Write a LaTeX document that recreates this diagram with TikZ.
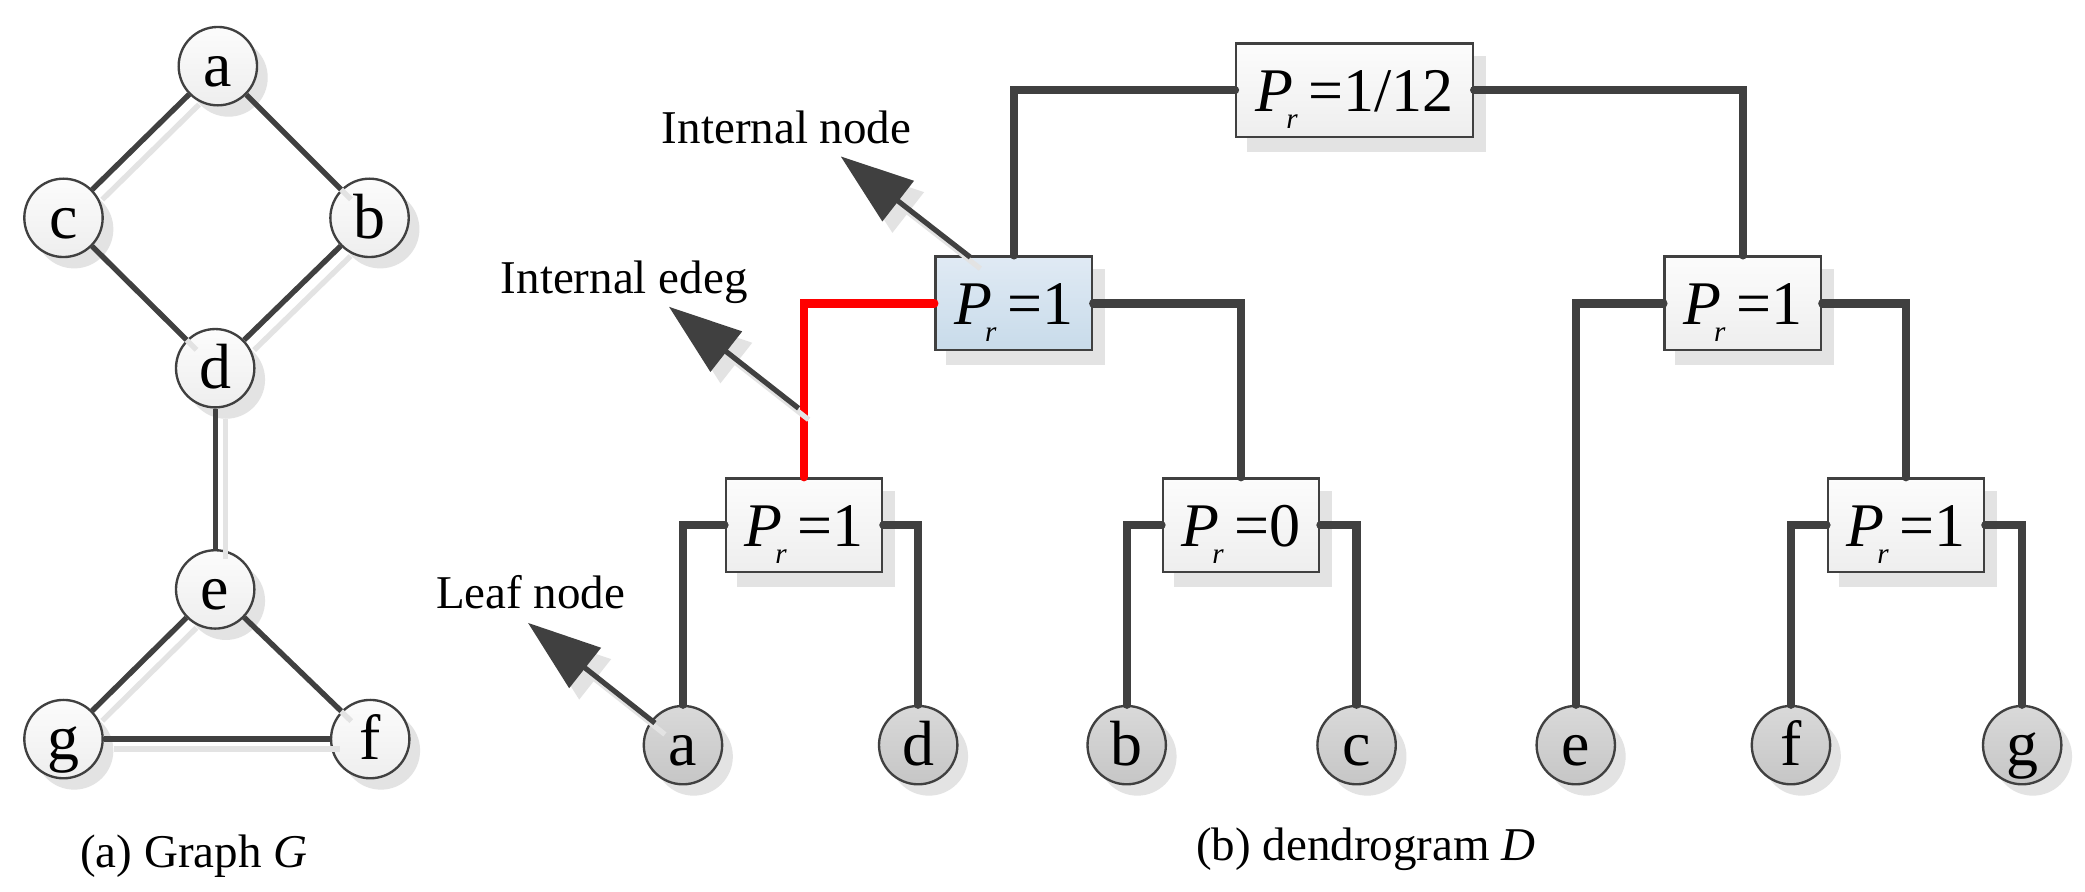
\documentclass[tikz,border=0pt]{standalone}
\usepackage{fontspec}
\setmainfont{Liberation Serif}
\usetikzlibrary{arrows.meta,calc}
\pgfdeclarelayer{bglayer}
\pgfdeclarelayer{shadowlayer}
\pgfdeclarelayer{edgelayer}
\pgfsetlayers{bglayer,shadowlayer,edgelayer,main}
\definecolor{linecol}{HTML}{404040}
\definecolor{shadowcol}{HTML}{E3E3E3}
\definecolor{boxtop}{HTML}{FCFCFC}
\definecolor{boxbot}{HTML}{EEEEEE}
\definecolor{bluetop}{HTML}{E0EAF4}
\definecolor{bluebot}{HTML}{C8DBEA}
\definecolor{leaftop}{HTML}{D9D9D9}
\definecolor{leafbot}{HTML}{C6C6C6}
\newcommand{\PrLab}[1]{{\itshape P}\kern-1.5pt\raisebox{-3.6pt}{\fontsize{6.2}{6.2}\selectfont\itshape r}\kern2.3pt=#1}
\begin{document}
\begin{tikzpicture}[x=0.01cm,y=-0.01cm,
  gnode/.style={circle,draw=linecol,line width=0.5pt,minimum size=0.586cm,inner sep=0pt,
    top color=boxtop,bottom color=boxbot,font=\fontsize{13.6}{14}\selectfont,text height=8.6pt,text depth=0pt},
  leaf/.style={gnode,top color=leaftop,bottom color=leafbot},
  pbox/.style={rectangle,draw=linecol,line width=0.5pt,minimum width=1.17cm,minimum height=0.70cm,inner sep=0pt,
    top color=boxtop,bottom color=boxbot,font=\fontsize{13.2}{14}\selectfont,text height=9pt,text depth=0pt},
  bluebox/.style={pbox,top color=bluetop,bottom color=bluebot},
  gedge/.style={draw=linecol,line width=1.14pt},
  gshadow/.style={draw=shadowcol,line width=1.14pt,transform canvas={shift={(0.075cm,-0.075cm)}}},
  conn/.style={draw=linecol,line width=1.75pt,line cap=round},
  redconn/.style={conn,draw=red},
  note/.style={font=\fontsize{10}{11}\selectfont,anchor=base,inner sep=0pt},
  pointer/.style={draw=linecol,line width=1.1pt,-{Triangle[length=0.545cm,width=0.375cm]}},
  pointershadow/.style={draw=shadowcol,line width=1.1pt,-{Triangle[length=0.545cm,width=0.375cm]},
    transform canvas={shift={(0.075cm,-0.085cm)}}},
]
\useasboundingbox (0,0) rectangle (1560,667);
\begin{pgfonlayer}{bglayer}
\fill[white] (0,0) rectangle (1560,667);
\end{pgfonlayer}

% ---------- (a) Graph G ----------
\node[gnode] (ga) at (163,49.5) {a};
\node[gnode] (gc) at (47.5,163) {c};
\node[gnode] (gb) at (276.5,163) {b};
\node[gnode] (gd) at (161,275.5) {d};
\node[gnode] (ge) at (161,441) {e};
\node[gnode] (gg) at (47.5,553) {g};
\node[gnode] (gf) at (277,553) {f};

% ---------- (b) dendrogram D ----------
\node[pbox,minimum width=1.77cm] (root) at (1013.5,67.5) {\PrLab{1/12}};
\node[bluebox] (L) at (758.5,227) {\PrLab{1}};
\node[pbox] (R) at (1304,227) {\PrLab{1}};
\node[pbox] (PA) at (601.5,393) {\PrLab{1}};
\node[pbox] (PB) at (928.5,393) {\PrLab{0}};
\node[pbox] (PC) at (1426,393) {\PrLab{1}};

\node[leaf] (la) at (511,557.5) {a};
\node[leaf] (ld) at (687,557.5) {d};
\node[leaf] (lb) at (843,557.5) {b};
\node[leaf] (lc) at (1015,557.5) {c};
\node[leaf] (le) at (1179,557.5) {e};
\node[leaf] (lf) at (1340,557.5) {f};
\node[leaf] (lg) at (1513,557.5) {g};

% node and box shadows
\begin{pgfonlayer}{shadowlayer}
\foreach \n in {ga,gb,gc,gd,ge,gf,gg,la,ld,lb,lc,le,lf,lg}
  \fill[shadowcol] ([shift={(0.08cm,-0.085cm)}]\n.center) circle[radius=0.293cm];
\foreach \n in {root,L,R,PA,PB,PC}
  \fill[shadowcol] ([shift={(0.09cm,-0.10cm)}]\n.south west) rectangle ([shift={(0.09cm,-0.10cm)}]\n.north east);
\end{pgfonlayer}

% edge shadows (lie over the nodes, as in the reference)
\draw[gshadow] (ga) -- (gc);
\draw[gshadow] (gb) -- (gd);
\draw[gshadow] (gd) -- (ge);
\draw[gshadow] (ge) -- (gg);
\draw[gshadow] (gg) -- (gf);
\draw[gshadow] (ga) -- (gb);
\draw[gshadow] (gc) -- (gd);
\draw[gshadow] (ge) -- (gf);
% graph edges
\draw[gedge] (ga) -- (gc);
\draw[gedge] (ga) -- (gb);
\draw[gedge] (gc) -- (gd);
\draw[gedge] (gb) -- (gd);
\draw[gedge] (gd) -- (ge);
\draw[gedge] (ge) -- (gg);
\draw[gedge] (ge) -- (gf);
\draw[gedge] (gg) -- (gf);

% dendrogram connectors
\draw[conn] (root.west) -| (L.north);
\draw[conn] (root.east) -| (R.north);
\draw[conn] (L.east) -| (PB.north);
\draw[redconn] (L.west) -| (PA.north);
\draw[conn] (R.west) -| (le.north);
\draw[conn] (R.east) -| (PC.north);
\draw[conn] (PA.west) -| (la.north);
\draw[conn] (PA.east) -| (ld.north);
\draw[conn] (PB.west) -| (lb.north);
\draw[conn] (PB.east) -| (lc.north);
\draw[conn] (PC.west) -| (lf.north);
\draw[conn] (PC.east) -| (lg.north);

% annotations
\node[note] (tin) at (588.5,107) {Internal node};
\node[note] (tie) at (467,219.5) {Internal edeg};
\node[note] (tln) at (397,455) {Leaf node};
\coordinate (inTail) at (726,192.5);
\coordinate (inTip) at (629,117);
\coordinate (ieTail) at (597.5,305.5);
\coordinate (ieTip) at (500.5,229.5);
\coordinate (lnTail) at (490,541);
\coordinate (lnTip) at (395,466);
\draw[pointershadow] (inTail) -- (inTip);
\draw[pointershadow] (ieTail) -- (ieTip);
\draw[pointershadow] (lnTail) -- (lnTip);
\draw[pointer] (inTail) -- (inTip);
\draw[pointer] (ieTail) -- (ieTip);
\draw[pointer] (lnTail) -- (lnTip);

% captions
\node[note] (capa) at (145,649) {(a) Graph \textit{G}};
\node[note] (capb) at (1022,643.5) {(b) dendrogram \textit{D}};
\end{tikzpicture}
\end{document}
